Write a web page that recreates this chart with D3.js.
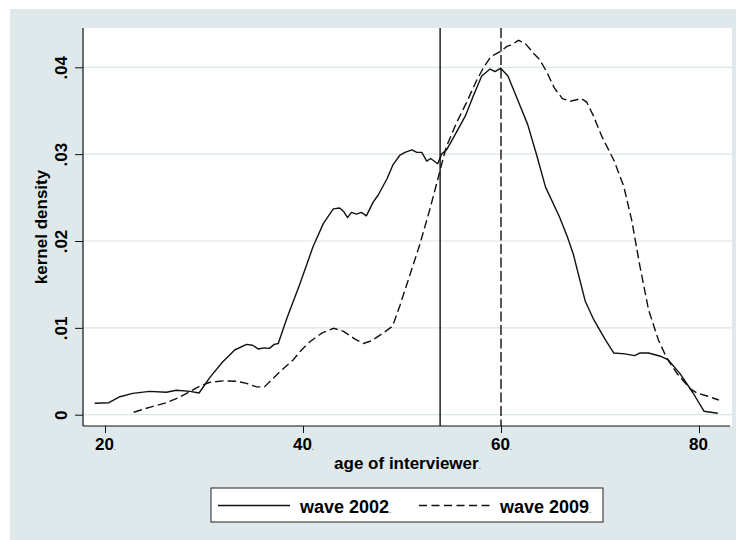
<!DOCTYPE html>
<html>
<head>
<meta charset="utf-8">
<script src="https://cdn.jsdelivr.net/npm/d3@7"></script>
<style>
  html, body { margin: 0; padding: 0; background: #ffffff; }
  svg { display: block; }
  text { font-family: "Liberation Sans", Arial, Helvetica, sans-serif; font-weight: bold; fill: #000; }
</style>
</head>
<body>
<svg id="chart" width="736" height="540"></svg>
<script>
// ---- data ----
const ages2002 = [18.96, 20.4, 21.5, 22.8, 24.5, 26.2, 27.2, 28.6, 29.5, 30.6, 31.9, 33.1, 34.3, 34.9, 35.5, 36.1, 36.6, 37.1, 37.5, 38.4, 39.7, 41.0, 42.05, 43.06, 43.7, 44.1, 44.5, 44.9, 45.4, 45.9, 46.4, 47.1, 47.6, 48.5, 49.1, 49.8, 50.3, 51.0, 51.5, 52.0, 52.5, 52.9, 53.6, 54.0, 54.5, 55.2, 56.4, 57.2, 58.05, 58.9, 59.4, 59.97, 60.7, 61.6, 62.7, 63.6, 64.5, 65.9, 66.7, 67.3, 68.5, 69.3, 70.5, 71.4, 72.5, 73.5, 74.0, 74.9, 76.2, 76.9, 78.1, 79.4, 80.5, 81.9];
const dens2002 = [0.00131, 0.00138, 0.00207, 0.00246, 0.00269, 0.00258, 0.00281, 0.00269, 0.0025, 0.0043, 0.0061, 0.00745, 0.0081, 0.0080, 0.00756, 0.0077, 0.00764, 0.0081, 0.0082, 0.0112, 0.0151, 0.0193, 0.0220, 0.0237, 0.0238, 0.0234, 0.0227, 0.0233, 0.0231, 0.0233, 0.0229, 0.0245, 0.0253, 0.0272, 0.0288, 0.0299, 0.0302, 0.0305, 0.0302, 0.0302, 0.0292, 0.0295, 0.0289, 0.0300, 0.0305, 0.0319, 0.0344, 0.0367, 0.0390, 0.0398, 0.0395, 0.0399, 0.0390, 0.0365, 0.0334, 0.0299, 0.0262, 0.0228, 0.0205, 0.0185, 0.0131, 0.0111, 0.0087, 0.0071, 0.0070, 0.0068, 0.0071, 0.0071, 0.0067, 0.0063, 0.0047, 0.0025, 0.0004, 0.00016];

const ages2009 = [22.9, 24.5, 26.2, 27.5, 28.55, 29.6, 30.6, 31.9, 33.3, 34.3, 35.3, 36.1, 37.0, 38.0, 39.0, 39.8, 40.7, 41.9, 43.1, 44.1, 45.25, 46.1, 46.9, 48.1, 49.05, 49.8, 50.8, 51.8, 52.8, 53.5, 54.2, 54.5, 55.5, 56.5, 57.5, 58.2, 58.9, 59.4, 59.9, 60.6, 61.1, 61.75, 62.4, 63.3, 63.9, 64.6, 65.4, 66.2, 67.0, 68.1, 68.65, 69.3, 70.2, 71.4, 72.4, 73.2, 74.05, 74.9, 75.9, 76.75, 77.75, 79.1, 79.8, 80.8, 82.0];
const dens2009 = [0.00028, 0.00085, 0.00138, 0.0020, 0.00265, 0.0033, 0.00373, 0.0039, 0.00385, 0.0036, 0.0032, 0.0032, 0.0042, 0.0053, 0.0063, 0.0074, 0.0084, 0.0094, 0.00995, 0.0096, 0.0087, 0.0082, 0.0085, 0.0094, 0.0102, 0.0126, 0.0161, 0.0196, 0.0236, 0.0266, 0.0297, 0.0309, 0.0336, 0.0359, 0.0384, 0.0399, 0.0411, 0.0415, 0.0418, 0.0424, 0.0426, 0.0431, 0.0428, 0.0416, 0.0409, 0.0395, 0.0376, 0.0364, 0.0361, 0.0364, 0.0360, 0.0345, 0.0320, 0.0293, 0.0263, 0.0224, 0.0170, 0.0121, 0.0086, 0.0065, 0.0048, 0.0030, 0.0025, 0.00215, 0.00169];

const referenceAges = [53.85, 60];          // solid = wave 2002, dashed = wave 2009
const xTicks = [20, 40, 60, 80];
const yTicks = [0, 0.01, 0.02, 0.03, 0.04];
const seriesNames = ["wave 2002", "wave 2009"];

// ---- layout ----
const svg = d3.select("#chart");
const plot = { left: 83, right: 732, top: 28, bottom: 426 };
const x = d3.scaleLinear().domain([20, 80]).range([105, 699]);
const y = d3.scaleLinear().domain([0, 0.04]).range([414.7, 67.3]);

const bg = "#dfe9ec";
const grid = "#d9e6ea";
const ink = "#111";

svg.append("rect").attr("x", 10).attr("y", 9).attr("width", 726).attr("height", 531).attr("fill", bg);
svg.append("rect").attr("x", plot.left).attr("y", plot.top)
  .attr("width", plot.right - plot.left).attr("height", plot.bottom - plot.top).attr("fill", "#fff");

// gridlines
svg.append("g").selectAll("line").data(yTicks).join("line")
  .attr("x1", plot.left).attr("x2", plot.right)
  .attr("y1", d => y(d)).attr("y2", d => y(d))
  .attr("stroke", grid).attr("stroke-width", 1.2);

// y axis
const yAxis = svg.append("g").attr("transform", `translate(${plot.left},0)`)
  .call(d3.axisLeft(y).tickValues(yTicks).tickSize(8).tickSizeOuter(0)
    .tickFormat(d => d === 0 ? "0" : d3.format(".2f")(d).replace(/^0/, "")));
yAxis.select(".domain").remove();
yAxis.selectAll(".tick line").attr("stroke", ink).attr("stroke-width", 1);
yAxis.selectAll(".tick text")
  .attr("transform", "rotate(-90)")
  .attr("x", 0).attr("y", -16).attr("dy", 0)
  .attr("text-anchor", "middle")
  .style("font-size", "17px").style("font-family", "'Liberation Sans', Arial, sans-serif").style("font-weight", "bold").attr("fill", "#000");

// x axis
const xAxis = svg.append("g").attr("transform", `translate(0,${plot.bottom})`)
  .call(d3.axisBottom(x).tickValues(xTicks).tickSize(7).tickSizeOuter(0).tickFormat(d => d));
xAxis.select(".domain").remove();
xAxis.selectAll(".tick line").attr("stroke", ink).attr("stroke-width", 1);
xAxis.selectAll(".tick text")
  .attr("y", 24).attr("dy", 0)
  .attr("text-anchor", "middle")
  .style("font-size", "17px").style("font-family", "'Liberation Sans', Arial, sans-serif").style("font-weight", "bold").attr("fill", "#000")
  .each(function(d) {
    const t = d3.select(this);
    t.text(null);
    t.append("tspan").text(d);
    t.append("tspan").text(".").style("font-size", "8px").style("font-weight", "normal");
  });

// axis lines
svg.append("line").attr("x1", plot.left).attr("x2", plot.left).attr("y1", plot.top).attr("y2", plot.bottom)
  .attr("stroke", ink).attr("stroke-width", 1.2);
svg.append("line").attr("x1", plot.left).attr("x2", plot.right - 2).attr("y1", plot.bottom).attr("y2", plot.bottom)
  .attr("stroke", ink).attr("stroke-width", 1.2);

// axis titles
const yt = svg.append("text").attr("transform", `translate(47,${(plot.top + plot.bottom) / 2}) rotate(-90)`)
  .attr("text-anchor", "middle").style("font-size", "17px");
yt.append("tspan").text("kernel density");

const xt = svg.append("text").attr("x", (plot.left + plot.right) / 2).attr("y", 469)
  .attr("text-anchor", "middle").style("font-size", "17px");
xt.append("tspan").text("age of interviewer");
xt.append("tspan").text(".").style("font-size", "8px").style("font-weight", "normal");

// reference lines
svg.append("g").selectAll("line").data(referenceAges).join("line")
  .attr("x1", d => x(d)).attr("x2", d => x(d))
  .attr("y1", plot.top).attr("y2", plot.bottom)
  .attr("stroke", ink).attr("stroke-width", 1.4)
  .attr("stroke-dasharray", (d, i) => i === 0 ? null : "10,3.5");

// curves
const line = d3.line().x(d => x(d[0])).y(d => y(d[1])).curve(d3.curveLinear);
const s2002 = ages2002.map((a, i) => [a, dens2002[i]]);
const s2009 = ages2009.map((a, i) => [a, dens2009[i]]);
svg.append("path").datum(s2002).attr("d", line)
  .attr("fill", "none").attr("stroke", ink).attr("stroke-width", 1.4).attr("stroke-linejoin", "round");
svg.append("path").datum(s2009).attr("d", line)
  .attr("fill", "none").attr("stroke", ink).attr("stroke-width", 1.4).attr("stroke-dasharray", "8.5,4");

// legend
const lg = svg.append("g");
lg.append("rect").attr("x", 211).attr("y", 488).attr("width", 392).attr("height", 34)
  .attr("fill", "#fff").attr("stroke", "#222").attr("stroke-width", 1);
const entries = [
  { name: seriesNames[0], x0: 218, x1: 290, tx: 300, dash: null },
  { name: seriesNames[1], x0: 419, x1: 492, tx: 500, dash: "8,4.5" }
];
entries.forEach(e => {
  lg.append("line").attr("x1", e.x0).attr("x2", e.x1).attr("y1", 505.5).attr("y2", 505.5)
    .attr("stroke", ink).attr("stroke-width", 1.4).attr("stroke-dasharray", e.dash);
  const t = lg.append("text").attr("x", e.tx).attr("y", 512.5).style("font-size", "18px");
  t.append("tspan").text(e.name);
  t.append("tspan").text(".").style("font-size", "8px").style("font-weight", "normal");
});
</script>
</body>
</html>
